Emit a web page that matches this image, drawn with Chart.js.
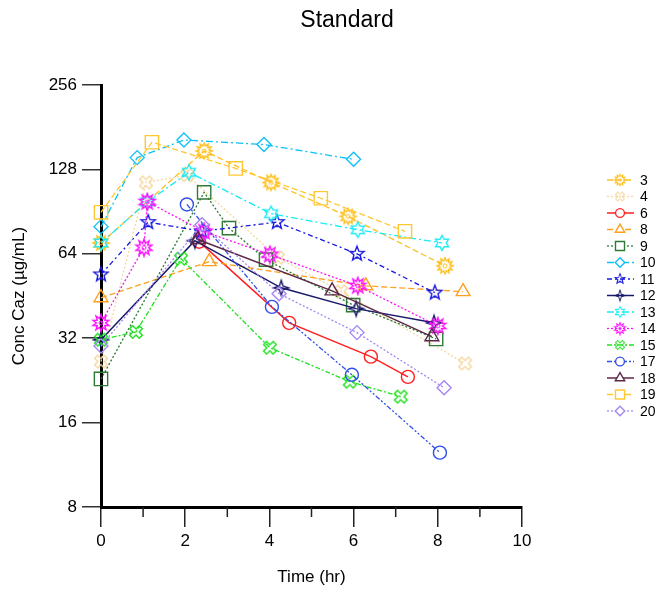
<!DOCTYPE html>
<html>
<head>
<meta charset="utf-8">
<title>Standard</title>
<script src="https://cdn.jsdelivr.net/npm/chart.js@4.4.0/dist/chart.umd.min.js"></script>
<style>
  html, body { margin: 0; padding: 0; background: #fff; }
  #wrap { width: 656px; height: 593px; }
</style>
</head>
<body>
<div id="wrap"><canvas id="chart" width="656" height="593"></canvas></div>
<script>
// Ceftazidime concentration by subject: [time (hr), conc (µg/mL)]
const subjects = ['3', '4', '6', '8', '9', '10', '11', '12', '13', '14', '15', '17', '18', '19', '20'];

const s3  = [[0, 70], [2.45, 149], [4.04, 115], [5.87, 87], [8.17, 58]];
const s4  = [[0, 26.4], [1.07, 115], [2.05, 122], [4.2, 62], [5.7, 47], [8.65, 26]];
const s6  = [[2.33, 70.7], [4.47, 36.3], [6.41, 27.5], [7.29, 23.3]];
const s8  = [[0, 44.6], [2.57, 60], [6.29, 49.2], [8.6, 46.9]];
const s9  = [[0, 22.9], [2.45, 106], [3.04, 79], [3.92, 61], [5.99, 42], [7.96, 31.8]];
const s10 = [[0, 80], [0.86, 141], [1.97, 163], [3.87, 157], [6.0, 139]];
const s11 = [[0, 54], [1.12, 83], [2.4, 77], [4.18, 83], [6.08, 64], [7.93, 46.5]];
const s12 = [[0, 31.6], [2.23, 71.3], [4.28, 48.4], [6.06, 40.8], [7.91, 36.3]];
const s13 = [[0, 70], [1.1, 98], [2.09, 125], [4.04, 89], [6.1, 78], [8.1, 70]];
const s14 = [[0, 36.3], [1.02, 67.3], [1.1, 98], [2.45, 76.8], [4.01, 63.6], [6.1, 49.2], [8.0, 35.4]];
const s15 = [[0, 31.6], [0.83, 33.7], [1.9, 61.5], [4.01, 29.6], [5.91, 22.4], [7.12, 19.8]];
const s17 = [[2.04, 96], [4.06, 41.4], [5.96, 23.7], [8.05, 12.5]];
const s18 = [[2.3, 72], [5.49, 47.2], [7.86, 32.4]];
const s19 = [[0, 90], [1.21, 160], [3.2, 129], [5.22, 101], [7.22, 77]];
const s20 = [[0, 30], [2.4, 81.3], [4.23, 46.1], [6.08, 33.5], [8.15, 21.3]];

const series = [s3, s4, s6, s8, s9, s10, s11, s12, s13, s14, s15, s17, s18, s19, s20];

const yTicks = [8, 16, 32, 64, 128, 256];
const xTicks = [0, 2, 4, 6, 8, 10];
const xMinor = [1, 3, 5, 7, 9];

// per-subject look
const colors = ['#ffc020', '#f5d7a0', '#ff2020', '#ffa020', '#2f7a34', '#10c0f8', '#1818e0',
                '#18186a', '#18ecf4', '#ff10ff', '#20e020', '#3050e8', '#5c2848', '#ffc830', '#a486f4'];
const dashes = [[6, 3], [2, 2], [], [6, 3], [2, 2], [7, 3, 2, 3], [5, 3, 2, 3], [],
                [7, 3, 2, 3], [2, 2], [5, 2, 2, 2], [5, 2, 2, 2, 2, 2], [], [6, 3], [2, 2]];
const markers = ['sun12', 'xcross', 'circle', 'triangle', 'rect', 'rectRot', 'star5', 'star4',
                 'star6', 'sun10', 'xcross', 'circle', 'triangle', 'rect', 'rectRot'];
const radii = { circle: 6.5, triangle: 8, rect: 9.4, rectRot: 7 };

function starPath(g, n, ro, ri) {
  for (let i = 0; i < 2 * n; i++) {
    const r = i % 2 ? ri : ro;
    const a = i * Math.PI / n;
    const px = r * Math.sin(a), py = -r * Math.cos(a);
    if (i) g.lineTo(px, py); else g.moveTo(px, py);
  }
  g.closePath();
}

function crossPath(g) {
  const w = 2.2, L = 6.8;
  const pts = [[-w, -L], [w, -L], [w, -w], [L, -w], [L, w], [w, w], [w, L], [-w, L], [-w, w], [-L, w], [-L, -w], [-w, -w]];
  const c = Math.SQRT1_2;
  pts.forEach(([x, y], i) => {
    const rx = (x - y) * c, ry = (x + y) * c;
    if (i) g.lineTo(rx, ry); else g.moveTo(rx, ry);
  });
  g.closePath();
}

// custom point images for the shapes Chart.js has no built-in for
function makeMarker(kind, color) {
  const c = document.createElement('canvas');
  c.width = 20; c.height = 20;
  const g = c.getContext('2d');
  g.translate(10, 10);
  g.strokeStyle = color;
  g.lineWidth = 1.4;
  g.beginPath();
  if (kind === 'sun12') starPath(g, 12, 8, 5);
  else if (kind === 'sun10') starPath(g, 10, 8.5, 4.6);
  else if (kind === 'star5') starPath(g, 5, 7.5, 3.2);
  else if (kind === 'star6') starPath(g, 6, 7.5, 4.2);
  else if (kind === 'star4') starPath(g, 4, 7.5, 2.6);
  else if (kind === 'xcross') crossPath(g);
  g.stroke();
  if (kind.startsWith('sun')) {
    g.beginPath();
    g.arc(0, 0, 2, 0, Math.PI * 2);
    g.lineWidth = 1;
    g.stroke();
  }
  return c;
}

const datasets = series.map((pts, i) => {
  const kind = markers[i];
  const builtIn = kind in radii;
  return {
    label: subjects[i],
    data: pts.map(([x, y]) => ({ x, y })),
    borderColor: colors[i],
    borderWidth: dashes[i].length ? 1.3 : 1.5,
    borderDash: dashes[i],
    pointStyle: builtIn ? kind : makeMarker(kind, colors[i]),
    pointRadius: builtIn ? radii[kind] : 8,
    pointBorderColor: colors[i],
    pointBackgroundColor: 'rgba(0,0,0,0)',
    pointBorderWidth: 1.4,
    fill: false,
    tension: 0,
    clip: false,
    order: -i
  };
});

const FONT = "'Liberation Sans', Arial, sans-serif";

const extras = {
  id: 'extras',
  afterDraw(chart) {
    const ctx = chart.ctx;
    const xs = chart.scales.x;
    const bottom = chart.chartArea.bottom;
    ctx.save();

    // minor ticks on the time axis
    ctx.strokeStyle = '#222';
    ctx.lineWidth = 1.5;
    xMinor.forEach(v => {
      const px = xs.getPixelForValue(v);
      ctx.beginPath();
      ctx.moveTo(px, bottom);
      ctx.lineTo(px, bottom + 10);
      ctx.stroke();
    });

    // title
    ctx.fillStyle = '#000';
    ctx.font = '23px ' + FONT;
    ctx.textAlign = 'center';
    ctx.textBaseline = 'middle';
    ctx.fillText('Standard', 347, 21);

    // legend: line sample + marker + subject id
    chart.data.datasets.forEach((ds, i) => {
      const y = 180 + i * 16.5;
      ctx.strokeStyle = ds.borderColor;
      ctx.lineWidth = ds.borderWidth;
      ctx.setLineDash(ds.borderDash);
      ctx.beginPath();
      ctx.moveTo(607, y);
      ctx.lineTo(634, y);
      ctx.stroke();
      ctx.setLineDash([]);
      if (ds.pointStyle instanceof HTMLCanvasElement) {
        const s = 14;
        ctx.drawImage(ds.pointStyle, 620 - s / 2, y - s / 2, s, s);
      } else {
        ctx.fillStyle = '#fff';
        ctx.lineWidth = 1.4;
        Chart.helpers.drawPoint(ctx, {
          pointStyle: ds.pointStyle, radius: ds.pointRadius * 0.68, rotation: 0, borderWidth: 1.4
        }, 620, y);
      }
      ctx.fillStyle = '#000';
      ctx.font = '14px ' + FONT;
      ctx.textAlign = 'left';
      ctx.fillText(ds.label, 640, y + 1);
    });
    ctx.restore();
  }
};

new Chart(document.getElementById('chart'), {
  type: 'line',
  data: { datasets },
  plugins: [extras],
  options: {
    responsive: false,
    animation: false,
    layout: { padding: { top: 85, right: 134, bottom: 0, left: 0 } },
    plugins: {
      legend: { display: false },
      title: { display: false },
      tooltip: { enabled: false }
    },
    scales: {
      x: {
        type: 'linear',
        min: 0,
        max: 10,
        afterFit: s => { s.height = 86; },
        afterBuildTicks: s => { s.ticks = xTicks.map(v => ({ value: v })); },
        border: { display: true, color: '#000', width: 3 },
        grid: { drawOnChartArea: false, tickLength: 20, color: '#222', lineWidth: 1.5 },
        ticks: { color: '#000', padding: 4, maxRotation: 0, autoSkip: false, font: { family: FONT, size: 17 } },
        title: { display: true, text: 'Time (hr)', color: '#000', padding: { top: 0, bottom: 5 }, font: { family: FONT, size: 17 } }
      },
      y: {
        type: 'logarithmic',
        min: 8,
        max: 256,
        afterFit: s => { s.width = 101; },
        afterBuildTicks: s => { s.ticks = yTicks.map(v => ({ value: v })); },
        border: { display: true, color: '#000', width: 3 },
        grid: { drawOnChartArea: false, tickLength: 19, color: '#333', lineWidth: 1.5 },
        ticks: { color: '#000', padding: 5, autoSkip: false, callback: v => String(v), font: { family: FONT, size: 17 } },
        title: { display: true, text: 'Conc Caz (µg/mL)', color: '#000', padding: { top: 9, bottom: 0 }, font: { family: FONT, size: 17 } }
      }
    }
  }
});
</script>
</body>
</html>
